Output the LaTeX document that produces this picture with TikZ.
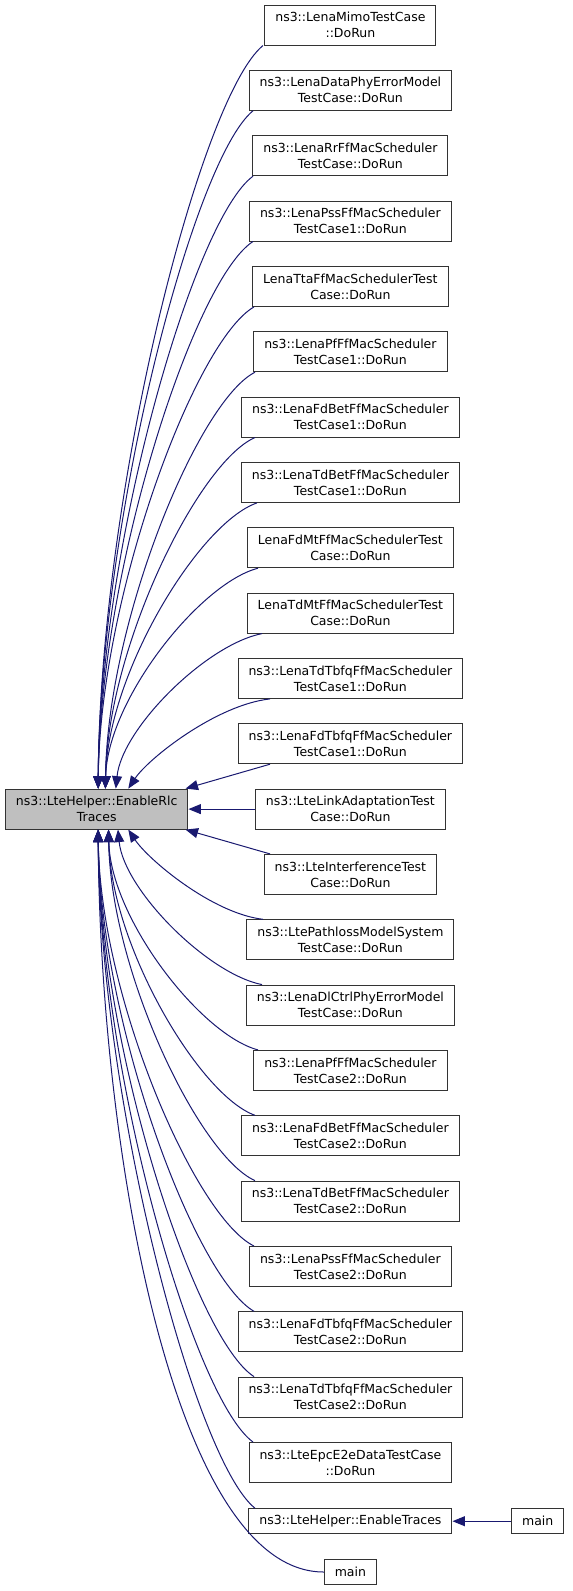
\documentclass[tikz,border=0pt]{standalone}
\usepackage{fontspec}
\setmainfont{DejaVu Sans}
\usepackage{tikz}
\usetikzlibrary{arrows.meta}
\definecolor{callBlue}{HTML}{191970}
\definecolor{curGray}{HTML}{BFBFBF}
\definecolor{boxLine}{HTML}{333333}

\begin{document}
\begin{tikzpicture}[x=1pt, y=-1pt,
    fnbox/.style={draw=boxLine, line width=1pt, fill=white, align=center,
      minimum height=40pt, inner xsep=10.5pt, inner ysep=0pt,
      font=\fontsize{12.5}{16}\selectfont},
    onebox/.style={fnbox, minimum height=25pt},
    curbox/.style={fnbox, fill=curGray},
    callarrow/.style={callBlue, line width=1pt, -{Triangle[length=12.5pt, width=10pt]}}]
  \useasboundingbox (0,0) rectangle (573,1591);
  % function being called
  \node[curbox] (rlc) at (96.7, 809.1) {ns3::LteHelper::EnableRlc\\Traces};
  % callers
  \node[fnbox] (mimo) at (350.4, 25.0) {ns3::LenaMimoTestCase\\::DoRun};
  \node[fnbox] (dataphy) at (350.4, 90.3) {ns3::LenaDataPhyErrorModel\\TestCase::DoRun};
  \node[fnbox] (rrff) at (350.4, 155.7) {ns3::LenaRrFfMacScheduler\\TestCase::DoRun};
  \node[fnbox] (pssA) at (350.4, 221.0) {ns3::LenaPssFfMacScheduler\\TestCase1::DoRun};
  \node[fnbox] (tta) at (350.4, 286.4) {LenaTtaFfMacSchedulerTest\\Case::DoRun};
  \node[fnbox] (pfA) at (350.4, 351.7) {ns3::LenaPfFfMacScheduler\\TestCase1::DoRun};
  \node[fnbox] (fdbetA) at (350.4, 417.0) {ns3::LenaFdBetFfMacScheduler\\TestCase1::DoRun};
  \node[fnbox] (tdbetA) at (350.4, 482.4) {ns3::LenaTdBetFfMacScheduler\\TestCase1::DoRun};
  \node[fnbox] (fdmt) at (350.4, 547.7) {LenaFdMtFfMacSchedulerTest\\Case::DoRun};
  \node[fnbox] (tdmt) at (350.4, 613.1) {LenaTdMtFfMacSchedulerTest\\Case::DoRun};
  \node[fnbox] (tdtbfqA) at (350.4, 678.4) {ns3::LenaTdTbfqFfMacScheduler\\TestCase1::DoRun};
  \node[fnbox] (fdtbfqA) at (350.4, 743.7) {ns3::LenaFdTbfqFfMacScheduler\\TestCase1::DoRun};
  \node[fnbox] (linkad) at (350.4, 809.1) {ns3::LteLinkAdaptationTest\\Case::DoRun};
  \node[fnbox] (interf) at (350.4, 874.4) {ns3::LteInterferenceTest\\Case::DoRun};
  \node[fnbox] (pathloss) at (350.4, 939.8) {ns3::LtePathlossModelSystem\\TestCase::DoRun};
  \node[fnbox] (dlctrl) at (350.4, 1005.1) {ns3::LenaDlCtrlPhyErrorModel\\TestCase::DoRun};
  \node[fnbox] (pfB) at (350.4, 1070.4) {ns3::LenaPfFfMacScheduler\\TestCase2::DoRun};
  \node[fnbox] (fdbetB) at (350.4, 1135.8) {ns3::LenaFdBetFfMacScheduler\\TestCase2::DoRun};
  \node[fnbox] (tdbetB) at (350.4, 1201.1) {ns3::LenaTdBetFfMacScheduler\\TestCase2::DoRun};
  \node[fnbox] (pssB) at (350.4, 1266.5) {ns3::LenaPssFfMacScheduler\\TestCase2::DoRun};
  \node[fnbox] (fdtbfqB) at (350.4, 1331.8) {ns3::LenaFdTbfqFfMacScheduler\\TestCase2::DoRun};
  \node[fnbox] (tdtbfqB) at (350.4, 1397.1) {ns3::LenaTdTbfqFfMacScheduler\\TestCase2::DoRun};
  \node[fnbox] (epc) at (350.4, 1462.5) {ns3::LteEpcE2eDataTestCase\\::DoRun};
  \node[onebox] (traces) at (350.4, 1521.2) {ns3::LteHelper::EnableTraces};
  \node[onebox] (mainR) at (537.7, 1521.2) {main};
  \node[onebox] (mainB) at (350.4, 1572.0) {main};

  % calls from above
  \draw[callarrow] (mimo.south -| 263,0) .. controls +(-63,52) and +(2,-298) .. (rlc.86);
  \draw[callarrow] (dataphy.south -| 253,0) .. controls +(-59,48) and +(2,-272) .. (rlc.86);
  \draw[callarrow] (rrff.south -| 253,0) .. controls +(-59,43) and +(2,-245) .. (rlc.86);
  \draw[callarrow] (pssA.south -| 253,0) .. controls +(-59,38) and +(2,-219) .. (rlc.86);
  \draw[callarrow] (tta.south -| 254,0) .. controls +(-59,34) and +(2,-193) .. (rlc.86);
  \draw[callarrow] (pfA.south -| 255,0) .. controls +(-57,29) and +(2,-167) .. (rlc.67);
  \draw[callarrow] (fdbetA.south -| 255,0) .. controls +(-57,25) and +(2,-141) .. (rlc.67);
  \draw[callarrow] (tdbetA.south -| 257,0) .. controls +(-58,20) and +(2,-115) .. (rlc.67);
  \draw[callarrow] (fdmt.south -| 258,0) .. controls +(-58,15) and +(2,-89) .. (rlc.67);
  \draw[callarrow] (tdmt.south -| 262,0) .. controls +(-56,11) and +(6,-60) .. (rlc.47);
  \draw[callarrow] (tdtbfqA.south -| 270,0) .. controls +(-54,6) and +(20,-30) .. (rlc.33);
  \draw[callarrow] (fdtbfqA.south -| 270,0) -- (rlc.13);
  \draw[callarrow] (linkad) -- (rlc);
  % calls from below
  \draw[callarrow] (interf.north -| 270,0) -- (rlc.-13);
  \draw[callarrow] (pathloss.north -| 263,0) .. controls +(-51,-6) and +(20,30) .. (rlc.-33);
  \draw[callarrow] (dlctrl.north -| 262,0) .. controls +(-55,-11) and +(6,60) .. (rlc.-44);
  \draw[callarrow] (pfB.north -| 258,0) .. controls +(-57,-15) and +(2,89) .. (rlc.-60);
  \draw[callarrow] (fdbetB.north -| 255,0) .. controls +(-56,-20) and +(2,115) .. (rlc.-60);
  \draw[callarrow] (tdbetB.north -| 255,0) .. controls +(-56,-25) and +(2,141) .. (rlc.-60);
  \draw[callarrow] (pssB.north -| 254,0) .. controls +(-59,-29) and +(2,167) .. (rlc.-86);
  \draw[callarrow] (fdtbfqB.north -| 254,0) .. controls +(-59,-34) and +(2,193) .. (rlc.-86);
  \draw[callarrow] (tdtbfqB.north -| 254,0) .. controls +(-59,-38) and +(2,219) .. (rlc.-86);
  \draw[callarrow] (epc.north -| 253,0) .. controls +(-59,-43) and +(2,245) .. (rlc.-86);
  \draw[callarrow] (traces.north -| 255,0) .. controls +(-60,-48) and +(2,272) .. (rlc.-86);
  \draw[callarrow] (mainB.west) .. controls +(-150,0) and +(2,320) .. (rlc.-86);
  \draw[callarrow] (mainR) -- (traces);
\end{tikzpicture}
\end{document}
